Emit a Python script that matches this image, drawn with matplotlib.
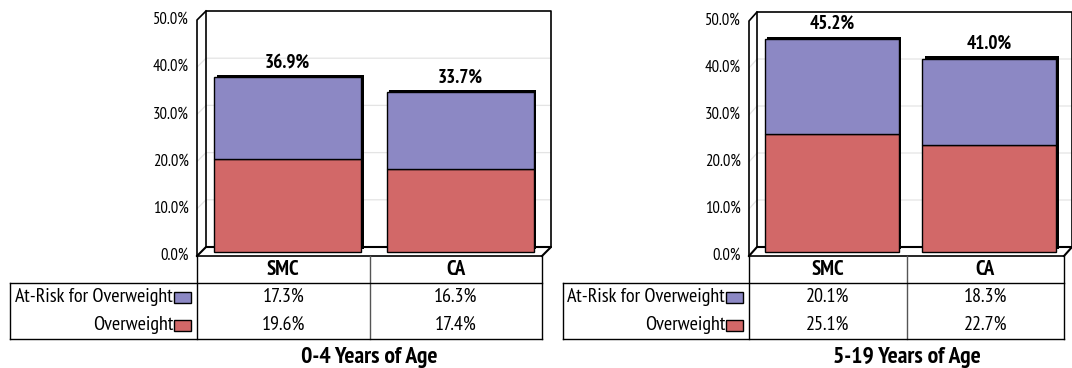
import matplotlib
matplotlib.use("Agg")
import matplotlib.pyplot as plt
from matplotlib.patches import Rectangle
from matplotlib import font_manager

fonts = font_manager.fontManager.ttflist


def has_bold(name):
    ws = {f.weight if isinstance(f.weight, int) else 400 for f in fonts if f.name == name}
    return any(w >= 600 for w in ws) and any(w < 600 for w in ws)


CANDIDATES = ['Liberation Sans Narrow', 'Arial Narrow', 'PT Sans Narrow', 'Roboto Condensed',
              'Archivo Narrow', 'Pragati Narrow', 'Liberation Sans']
NARROW = next(n for n in CANDIDATES if has_bold(n))
plt.rcParams['font.family'] = [NARROW, 'DejaVu Sans']

# ---------------- data ----------------
categories = ["SMC", "CA"]
series_names = ["At-Risk for Overweight", "Overweight"]
overweight_0_4 = [19.6, 17.4]
atrisk_0_4 = [17.3, 16.3]
overweight_5_19 = [25.1, 22.7]
atrisk_5_19 = [20.1, 18.3]
titles = ["0-4 Years of Age", "5-19 Years of Age"]
yticks = [0, 10, 20, 30, 40, 50]

COL_AR = "#8C88C4"
COL_OW = "#D26868"

W, H = 1072, 368
fig = plt.figure(figsize=(W / 100, H / 100), dpi=100)


def fx(px):
    return px / W


def fy(py):
    return 1 - py / H


def panel(x0, x1, y0, y50, dxp, dyp, lab_left, ow, ar, title, pad):
    catw = (x1 - x0) / 2.0
    scale = (y0 - y50) / 50.0
    dx = dxp / catw
    dy = dyp / scale
    ax = fig.add_axes([fx(x0), fy(y0), fx(x1 + dxp) - fx(x0), fy(y50 - dyp) - fy(y0)])
    ax.set_xlim(-0.5, 1.5 + dx)
    ax.set_ylim(0, 50 + dy)
    ax.axis('off')
    k = 'k'
    for v in yticks[1:-1]:
        ax.plot([-0.5, -0.5 + dx, 1.5 + dx], [v, v + dy, v + dy], color="#E4E4E4", lw=0.9, zorder=1)
    ax.plot([-0.5 + dx, -0.5 + dx, 1.5 + dx, 1.5 + dx], [dy, 50 + dy, 50 + dy, dy], color=k, lw=1.2, zorder=2, clip_on=False)
    ax.plot([-0.5, -0.5, -0.5 + dx], [0, 50, 50 + dy], color=k, lw=1.2, zorder=2, clip_on=False)
    ax.plot([-0.5, -0.5 + dx, 1.5 + dx, 1.5], [0, dy, dy, 0], color=k, lw=1.5, zorder=2, clip_on=False)
    ax.plot([-0.5, 1.5], [0, 0], color=k, lw=1.2, zorder=2, clip_on=False)
    xs = [i + dx / 2 for i in range(len(categories))]
    bw = 0.85
    tot = [a + b for a, b in zip(ow, ar)]
    sx = 2.5 / catw
    sy = 2.5 / scale
    ax.bar([x + sx for x in xs], tot, bottom=dy / 2 + sy, width=bw, color=k, zorder=3)
    ax.bar(xs, ow, bottom=dy / 2, width=bw, color=COL_OW, edgecolor=k, lw=1.0, zorder=4)
    ax.bar(xs, ar, bottom=[dy / 2 + v for v in ow], width=bw, color=COL_AR, edgecolor=k, lw=1.0, zorder=4)
    for x, t in zip(xs, tot):
        ax.text(x, t + dy / 2 + 15 / scale, f"{t:.1f}%", ha='center', va='center',
                fontsize=13.8, fontweight='bold', zorder=5)
    for v in yticks:
        ax.text(-0.5 - pad / catw, v, f"{v:.1f}%", ha='right', va='center', fontsize=12, clip_on=False)

    ty0, ty1 = y0, 339
    xl = -0.5 - (x0 - lab_left) / catw
    tx = fig.add_axes([fx(lab_left), fy(ty1), fx(x1) - fx(lab_left), fy(ty0) - fy(ty1)])
    tx.set_xlim(xl, 1.5)
    tx.set_ylim(0, 83)
    tx.axis('off')
    lw = 1.0
    tx.plot([-0.5, -0.5], [0, 83], color=k, lw=lw, clip_on=False)
    tx.plot([0.5, 0.5], [0, 83], color="#555555", lw=lw, clip_on=False)
    tx.plot([1.5, 1.5], [0, 83], color=k, lw=lw, clip_on=False)
    tx.plot([xl, 1.5], [56, 56], color=k, lw=lw, clip_on=False)
    tx.plot([xl, 1.5], [0, 0], color=k, lw=lw, clip_on=False)
    tx.plot([xl, xl], [0, 56], color=k, lw=lw, clip_on=False)
    for i, c in enumerate(categories):
        tx.text(i, 69.5, c, ha='center', va='center', fontsize=15, fontweight='bold')
    row_vals = [ar, ow]
    row_cols = [COL_AR, COL_OW]
    row_y = [42, 14]
    swx = 6 / catw
    sww = 17 / catw
    for name, vals, col, yy in zip(series_names, row_vals, row_cols, row_y):
        tx.add_patch(Rectangle((-0.5 - swx - sww, yy - 5.5), sww, 11, facecolor=col, edgecolor=k, lw=1.0))
        tx.text(-0.5 - swx - sww - 1 / catw, yy, name, ha='right', va='center', fontsize=14.5)
        for i, v in enumerate(vals):
            tx.text(i, yy, f"{v:.1f}%", ha='center', va='center', fontsize=14.5)
    fig.text(fx((x0 + x1) / 2), fy(358), title, ha='center', va='center', fontsize=17, fontweight='bold')


panel(197, 542, 256, 20, 9, 9, 10, overweight_0_4, atrisk_0_4, titles[0], 8)
panel(749, 1064, 256, 21, 8, 9, 563, overweight_5_19, atrisk_5_19, titles[1], 8)

fig.savefig("out.png", dpi=100)
